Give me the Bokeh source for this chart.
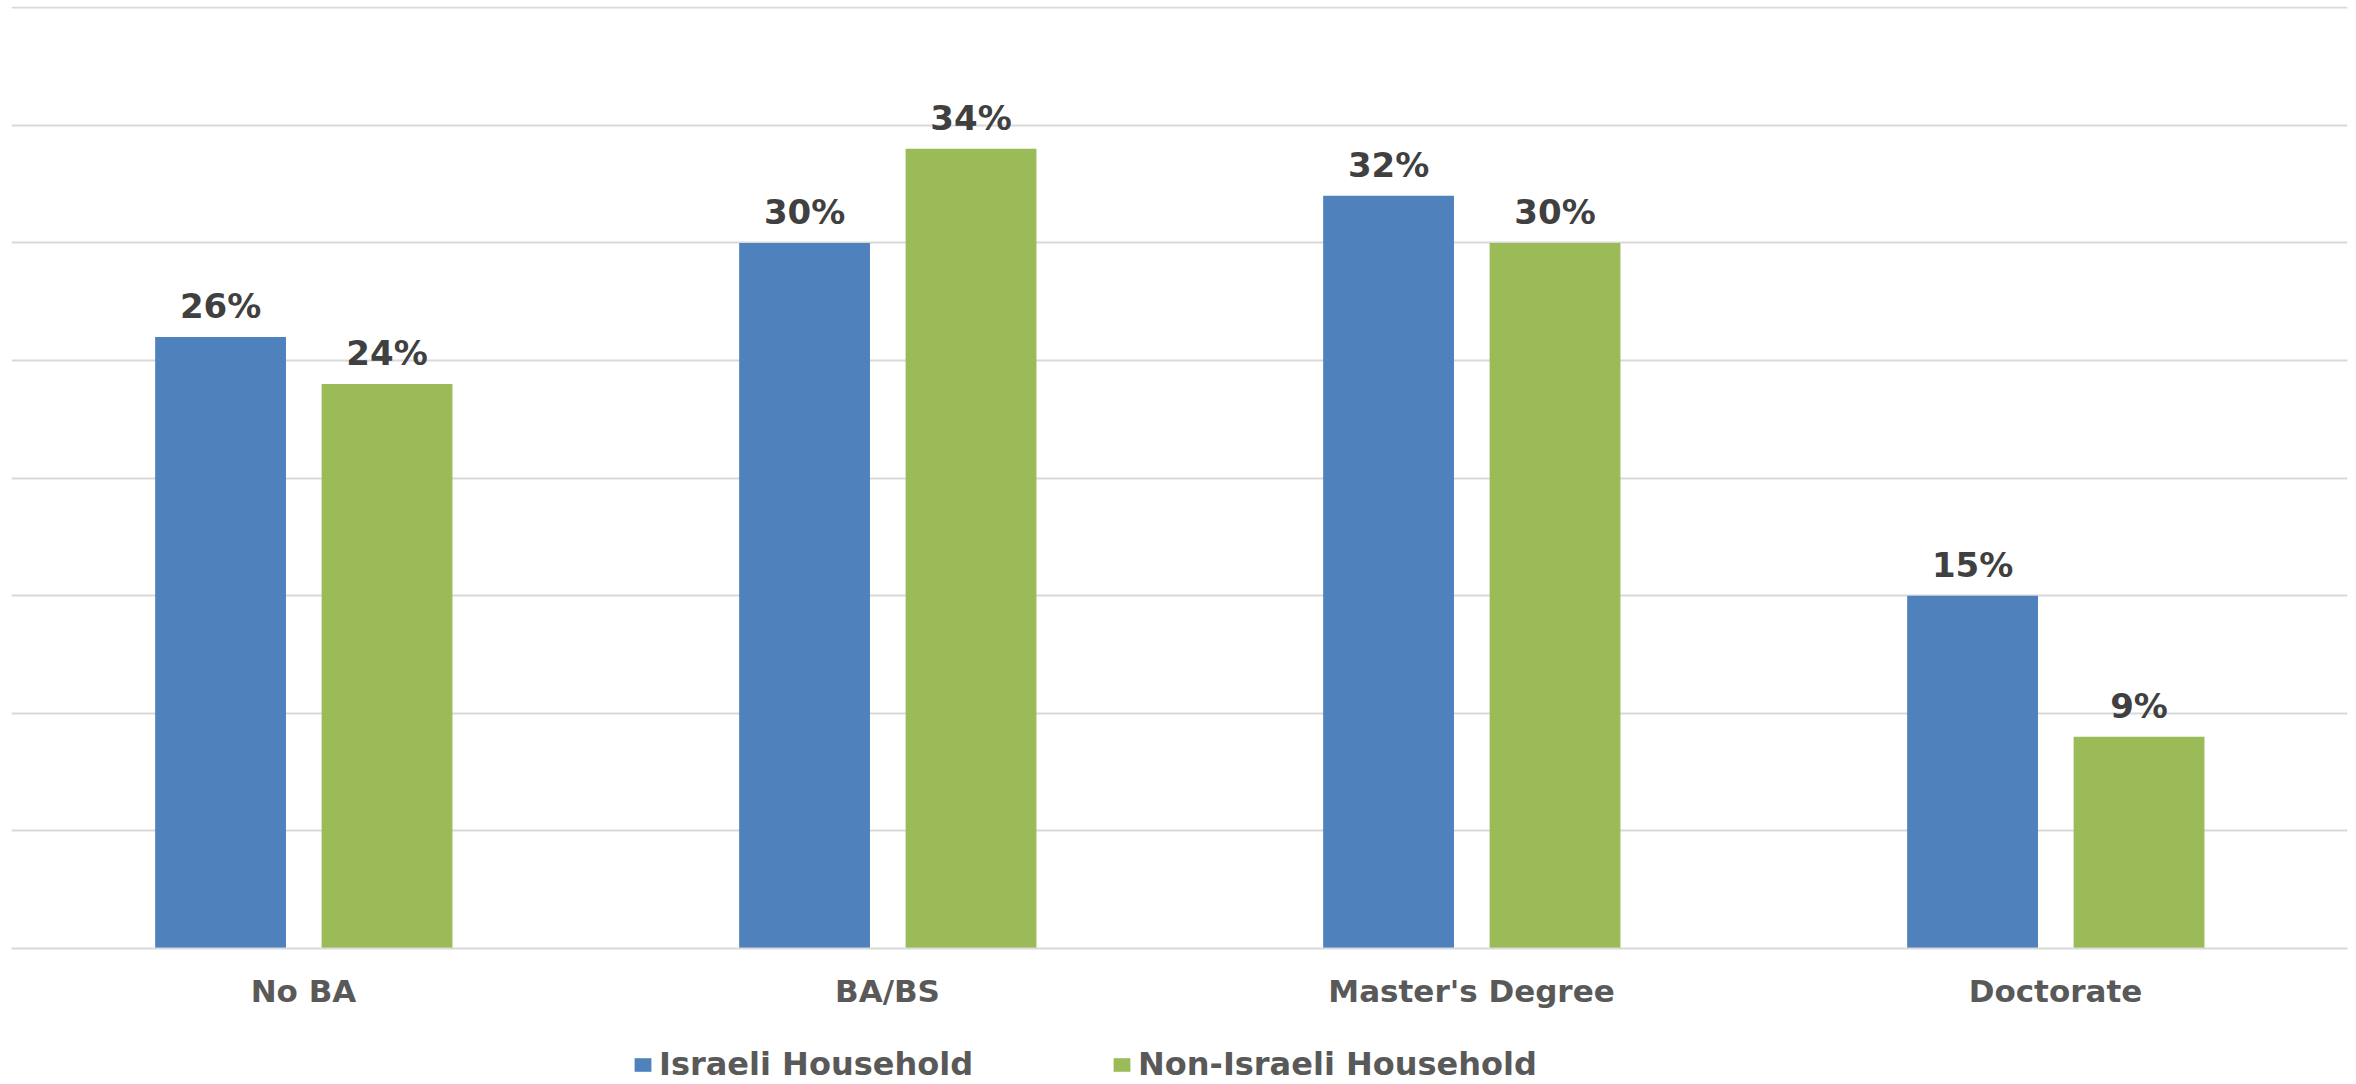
from bokeh.plotting import figure
from bokeh.layouts import column
from bokeh.models import ColumnDataSource, FactorRange, LabelSet, Legend, LegendItem, SingleIntervalTicker
from bokeh.transform import dodge
from bokeh.core.properties import value
from bokeh.embed import file_html
from bokeh.resources import INLINE

categories = ["No BA", "BA/BS", "Master's Degree", "Doctorate"]
israeli = [26, 30, 32, 15]
non_israeli = [24, 34, 30, 9]
series_names = ["Israeli Household", "Non-Israeli Household"]

BLUE = "#4F81BD"
GREEN = "#9BBB59"
FONT = "DejaVu Sans"

src = ColumnDataSource(dict(
    cat=categories,
    isr=israeli,
    non=non_israeli,
    isr_lbl=[f"{v}%" for v in israeli],
    non_lbl=[f"{v}%" for v in non_israeli],
))

p = figure(
    x_range=FactorRange(factors=categories, range_padding=0),
    y_range=(0, 40.05),
    width=2348, height=1040,
    output_backend="svg", toolbar_location=None,
    min_border_left=11, min_border_right=1, min_border_top=6, min_border_bottom=92,
)
p.outline_line_color = None
p.background_fill_color = "white"
p.border_fill_color = "white"

b1 = p.vbar(x=dodge("cat", -0.142, range=p.x_range), top="isr", width=0.224,
            source=src, fill_color=BLUE, line_color=None)
b2 = p.vbar(x=dodge("cat", 0.143, range=p.x_range), top="non", width=0.224,
            source=src, fill_color=GREEN, line_color=None)

for fld, lbl, off in (("isr", "isr_lbl", -0.142), ("non", "non_lbl", 0.143)):
    p.add_layout(LabelSet(
        x=dodge("cat", off, range=p.x_range), y=fld, text=lbl, source=src,
        y_offset=19, text_align="center", text_baseline="alphabetic",
        text_font=value(FONT), text_font_style="bold", text_font_size="34px",
        text_color="#404040",
    ))

p.yaxis.visible = False
p.yaxis.ticker = SingleIntervalTicker(interval=5)
p.ygrid.ticker = SingleIntervalTicker(interval=5)
p.ygrid.grid_line_color = "#D9D9D9"
p.ygrid.grid_line_width = 2
p.xgrid.grid_line_color = None

xa = p.xaxis[0]
xa.axis_line_color = "#D9D9D9"
xa.axis_line_width = 2
xa.major_tick_line_color = None
xa.minor_tick_line_color = None
xa.major_tick_out = 0
xa.major_tick_in = 0
xa.major_label_standoff = 24
xa.major_label_text_font = FONT
xa.major_label_text_font_style = "bold"
xa.major_label_text_font_size = "31px"
xa.major_label_text_color = "#595959"

# legend strip below the chart (swatch glyphs sit outside its visible range)
pl = figure(
    x_range=(0, 1), y_range=(0, 1),
    width=2348, height=44,
    output_backend="svg", toolbar_location=None,
    x_axis_type=None, y_axis_type=None,
    min_border_left=0, min_border_right=0, min_border_top=0, min_border_bottom=0,
)
pl.outline_line_color = None
pl.grid.visible = False
lg1 = pl.vbar(x=[5], top=[5], bottom=[4], width=0.1, fill_color=BLUE, line_color=None)
lg2 = pl.vbar(x=[5], top=[5], bottom=[4], width=0.1, fill_color=GREEN, line_color=None)

legend = Legend(
    items=[LegendItem(label=series_names[0], renderers=[lg1]),
           LegendItem(label=series_names[1], renderers=[lg2])],
    orientation="horizontal",
    location=(621, 1),
    glyph_width=21, glyph_height=17, label_standoff=6, spacing=138,
    label_height=36,
    padding=0, margin=0,
    border_line_color=None, background_fill_alpha=0,
    label_text_font=FONT, label_text_font_style="bold",
    label_text_font_size="32px", label_text_color="#595959",
)
pl.add_layout(legend)

open("out.html", "w").write(file_html(column(p, pl, spacing=0), INLINE))
